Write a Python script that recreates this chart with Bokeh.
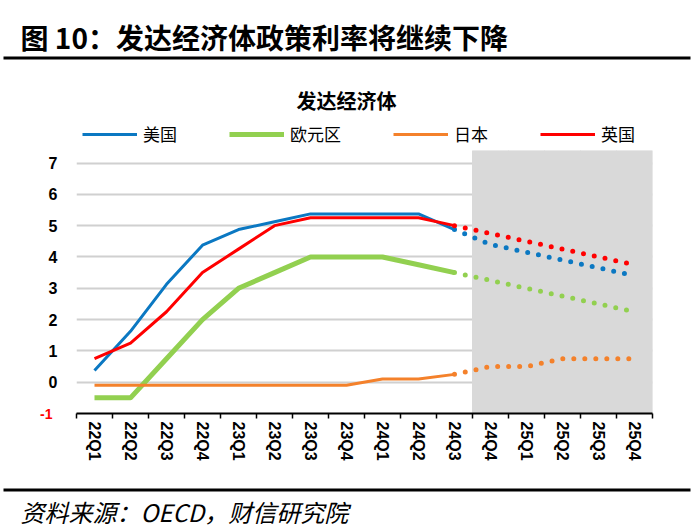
import math
from bokeh.plotting import figure
from bokeh.layouts import column
from bokeh.models import (FactorRange, Range1d, LinearAxis, CategoricalAxis, FixedTicker,
                          Label, Legend, LegendItem, BoxAnnotation, CustomLabelingPolicy)
from bokeh.embed import file_html
from bokeh.resources import INLINE

# ---------------- data ----------------
quarters = ["22Q1", "22Q2", "22Q3", "22Q4", "23Q1", "23Q2", "23Q3", "23Q4",
            "24Q1", "24Q2", "24Q3", "24Q4", "25Q1", "25Q2", "25Q3", "25Q4"]
hist_quarters = quarters[:11]      # 22Q1 .. 24Q3 (actual)
fc_quarters = quarters[10:]        # 24Q3 .. 25Q4 (forecast, dotted)
shade_quarters = quarters[11:]     # 24Q4 .. 25Q4 (shaded)

us_hist = [0.375, 1.625, 3.125, 4.375, 4.875, 5.125, 5.375, 5.375, 5.375, 5.375, 4.875]
eu_hist = [-0.5, -0.5, 0.75, 2.0, 3.0, 3.5, 4.0, 4.0, 4.0, 3.75, 3.5]
jp_hist = [-0.1, -0.1, -0.1, -0.1, -0.1, -0.1, -0.1, -0.1, 0.1, 0.1, 0.25]
uk_hist = [0.75, 1.25, 2.25, 3.5, 4.25, 5.0, 5.25, 5.25, 5.25, 5.25, 5.0]

us_fc = [4.875, 4.4, 4.15, 3.9, 3.65, 3.4]
eu_fc = [3.5, 3.25, 3.0, 2.75, 2.5, 2.25]
jp_fc = [0.25, 0.5, 0.5, 0.75, 0.75, 0.75]
uk_fc = [5.0, 4.75, 4.5, 4.25, 4.0, 3.75]

series_names = ["美国", "欧元区", "日本", "英国"]
y_ticks = [-1, 0, 1, 2, 3, 4, 5, 6, 7]
Y_MIN, Y_MAX = -1, 7.4

title_text = "图 10：发达经济体政策利率将继续下降"
chart_title = "发达经济体"
source_text = "资料来源：OECD，财信研究院"

colors = ["#0B78C2", "#92D050", "#F4812B", "#FF0000"]
widths = [3, 5, 3, 3]

W = 693
TOP_H = 150      # title, rule, chart title, legend
MAIN_H = 330     # plot area + axes
BOT_H = 51       # rule + source
FRAME_H = 263
FL, FR = 76, 652


def no_align(f):
    try:
        f.frame_align = False
    except Exception:
        pass


def blank_fig(h):
    f = figure(width=W, height=h, x_range=Range1d(0, W), y_range=Range1d(h, 0),
               x_axis_location=None, y_axis_location=None,
               output_backend="svg", toolbar_location=None,
               min_border=0, min_border_left=0, min_border_right=0,
               min_border_top=0, min_border_bottom=0)
    f.outline_line_color = None
    f.grid.visible = False
    f.background_fill_color = "white"
    f.border_fill_color = "white"
    no_align(f)
    return f


# ---------------- top: title + legend ----------------
top = blank_fig(TOP_H)
items = []
for name, col, w in zip(series_names, colors, widths):
    r = top.line(x=[float("nan")], y=[float("nan")], line_color=col, line_width=w)
    items.append(LegendItem(label=name, renderers=[r]))
legend = Legend(items=items, orientation="horizontal", location=(82, 4),
                glyph_width=55, glyph_height=20, label_standoff=6, spacing=52,
                padding=0, margin=0, border_line_color=None, background_fill_alpha=0,
                label_text_font="Noto Sans CJK SC", label_text_font_size="17px",
                label_text_color="black")
top.add_layout(legend, "center")
top.add_layout(Label(x=20, y=36, text=title_text, text_align="left", text_baseline="middle",
                     text_font="Noto Sans CJK SC", text_font_style="bold",
                     text_font_size="28px", text_color="black"))
top.add_layout(BoxAnnotation(left=3, right=690, top=56, bottom=59,
                             fill_color="black", fill_alpha=1, line_color=None))
top.add_layout(Label(x=346, y=100, text=chart_title, text_align="center", text_baseline="middle",
                     text_font="Noto Sans CJK SC", text_font_style="bold",
                     text_font_size="20px", text_color="black"))

# ---------------- main chart ----------------
p = figure(width=W, height=MAIN_H,
           x_range=FactorRange(factors=quarters, range_padding=0),
           y_range=Range1d(Y_MIN, Y_MAX),
           output_backend="svg", toolbar_location=None, x_axis_location=None,
           min_border_left=FL, min_border_right=W - FR,
           min_border_top=0, min_border_bottom=MAIN_H - FRAME_H)
p.outline_line_color = None
p.background_fill_color = "white"
p.border_fill_color = "white"
no_align(p)

p.yaxis.ticker = FixedTicker(ticks=y_ticks[1:])
p.yaxis.axis_line_color = None
p.yaxis.major_tick_line_color = None
p.yaxis.minor_tick_line_color = None
p.yaxis.major_tick_out = 0
p.yaxis.major_tick_in = 0
p.yaxis.minor_tick_out = 0
p.yaxis.minor_tick_in = 0
p.yaxis.major_label_standoff = 19
p.yaxis.major_label_text_font = "Liberation Sans"
p.yaxis.major_label_text_font_style = "bold"
p.yaxis.major_label_text_font_size = "16px"
p.yaxis.major_label_text_color = "black"
p.ygrid.ticker = FixedTicker(ticks=y_ticks[1:])
p.ygrid.grid_line_color = "#D0D0D0"
p.ygrid.grid_line_width = 2
for g in p.xgrid:
    g.visible = False

# red "-1" label as its own axis
neg_axis = LinearAxis(ticker=FixedTicker(ticks=y_ticks[:1]),
                      axis_line_color=None, major_tick_line_color=None,
                      minor_tick_line_color=None,
                      major_tick_out=0, major_tick_in=0, minor_tick_out=0, minor_tick_in=0,
                      major_label_standoff=-7,
                      major_label_overrides={y_ticks[0]: "-1"},
                      major_label_text_font="Liberation Sans",
                      major_label_text_font_style="bold",
                      major_label_text_font_size="14px",
                      major_label_text_color="#FF0000")
p.add_layout(neg_axis, "left")

# x axes: boundary ticks + axis line, then rotated category labels
tick_axis = LinearAxis(ticker=FixedTicker(ticks=list(range(len(quarters) + 1))),
                       major_label_text_font_size="0px", major_label_standoff=0,
                       major_label_policy=CustomLabelingPolicy(
                           code="for (const i of indices) indices.unset(i)"),
                       major_tick_in=0, major_tick_out=5, major_tick_line_width=1.5,
                       minor_tick_in=0, minor_tick_out=0,
                       axis_line_color="black", axis_line_width=2)
label_axis = CategoricalAxis(axis_line_color=None, major_tick_line_color=None,
                             major_tick_out=0, major_tick_in=0,
                             major_label_orientation=-math.pi / 2,
                             major_label_standoff=3,
                             major_label_text_font="Liberation Sans",
                             major_label_text_font_style="bold",
                             major_label_text_font_size="16px",
                             major_label_text_color="black")
p.add_layout(tick_axis, "below")
p.add_layout(label_axis, "below")

# shaded forecast area
p.vbar(x=shade_quarters, top=Y_MAX, bottom=Y_MIN, width=1,
       fill_color="#D9D9D9", line_color="#D9D9D9", line_width=1)

for col, w, hv, fv in zip(colors, widths,
                          [us_hist, eu_hist, jp_hist, uk_hist],
                          [us_fc, eu_fc, jp_fc, uk_fc]):
    p.line(hist_quarters, hv, line_color=col, line_width=w, line_join="round")
    p.line(fc_quarters, fv, line_color=col, line_width=5, line_dash="0 11", line_cap="round")

# ---------------- bottom: rule + source ----------------
bot = blank_fig(BOT_H)
bot.add_layout(BoxAnnotation(left=3, right=690, top=8, bottom=11,
                             fill_color="black", fill_alpha=1, line_color=None))
bot.add_layout(Label(x=20, y=31, text=source_text, text_align="left", text_baseline="middle",
                     text_font="Noto Sans CJK SC", text_font_style="italic",
                     text_font_size="24px", text_color="black"))

layout = column(top, p, bot, spacing=0)
open("out.html", "w").write(file_html(layout, INLINE))
